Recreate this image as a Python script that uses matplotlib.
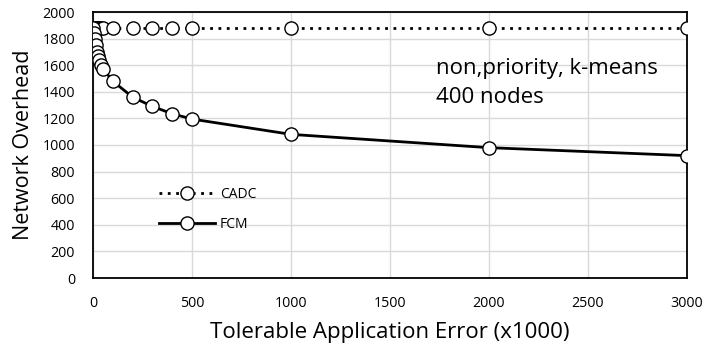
import matplotlib
matplotlib.use("Agg")
import matplotlib.pyplot as plt

plt.rcParams["font.family"] = ["Open Sans", "DejaVu Sans"]

# CADC: constant overhead
cadc_x = [0, 5, 10, 15, 20, 25, 30, 40, 50, 100, 200, 300, 400, 500, 1000, 2000, 3000]
cadc_y = [1880] * len(cadc_x)

# FCM: overhead drops with tolerable error
fcm_x = [0, 5, 10, 15, 20, 25, 30, 40, 50, 100, 200, 300, 400, 500, 1000, 2000, 3000]
fcm_y = [1880, 1840, 1795, 1750, 1700, 1670, 1640, 1600, 1575, 1480, 1360, 1290, 1235, 1195,
         1080, 980, 920]

xticks = [0, 500, 1000, 1500, 2000, 2500, 3000]
yticks = list(range(0, 2001, 200))

fig = plt.figure(figsize=(7.05, 3.51), dpi=100)
ax = fig.add_axes([93 / 705, 73 / 351, 594 / 705, 266 / 351])

marker_style = dict(marker="o", markersize=9.5, markerfacecolor="white",
                    markeredgecolor="black", markeredgewidth=1.0, color="black")

ax.plot(cadc_x, cadc_y, linestyle=(0, (1, 2)), linewidth=2, label="CADC", zorder=3, **marker_style)
ax.plot(fcm_x, fcm_y, linestyle="-", linewidth=2, label="FCM", zorder=4, **marker_style)

ax.set_xlim(0, 3000)
ax.set_ylim(0, 2000)
ax.set_xticks(xticks)
ax.set_yticks(yticks)
ax.tick_params(length=0, labelsize=10.3)
ax.tick_params(axis="x", pad=13)
ax.tick_params(axis="y", pad=13)
ax.grid(True, color="#d9d9d9", linewidth=1)
ax.set_axisbelow(True)
for s in ax.spines.values():
    s.set_color("black")
    s.set_linewidth(1.3)

ax.set_xlabel("Tolerable Application Error (x1000)", fontsize=16, labelpad=8)
ax.set_ylabel("Network Overhead", fontsize=15.5, labelpad=6)

ax.text(0.578, 0.733, "non,priority, k-means\n400 nodes", transform=ax.transAxes,
        fontsize=16, va="center", ha="left", linespacing=1.45)

ax.legend(loc="center left", bbox_to_anchor=(0.09, 0.258), frameon=False, fontsize=10,
          handlelength=4.0, labelspacing=1.1, handletextpad=0.4)

fig.savefig("out.png", dpi=100)
